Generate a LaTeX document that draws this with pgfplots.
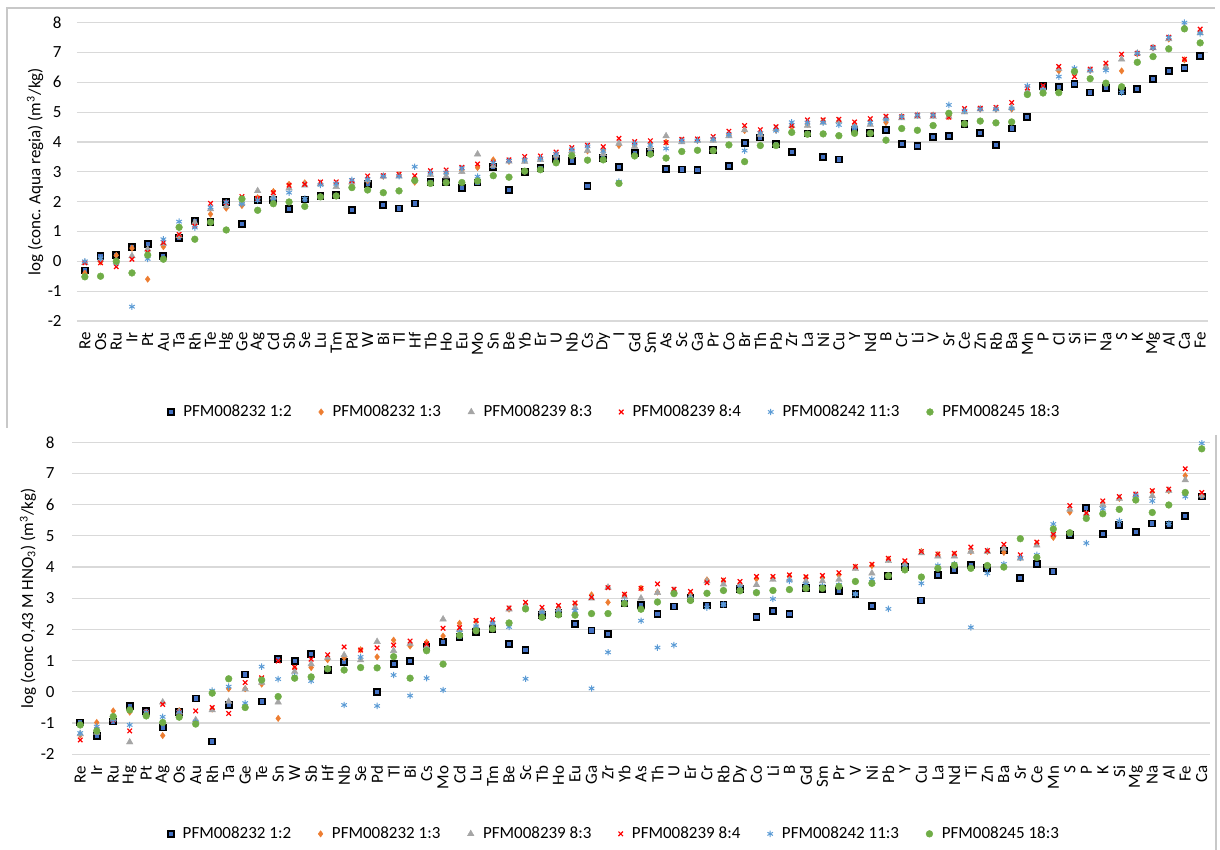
\documentclass[border=0pt]{standalone}
\usepackage{fontspec}
\setmainfont{Carlito}
\usepackage{pgfplots}
\usepackage{pgfplotstable}
\pgfplotsset{compat=1.18}

\definecolor{sqblue}{HTML}{4472C4}
\definecolor{orng}{HTML}{ED7D31}
\definecolor{gry}{HTML}{A5A5A5}
\definecolor{rd}{HTML}{FF0000}
\definecolor{lblue}{HTML}{5B9BD5}
\definecolor{grn}{HTML}{70AD47}
\definecolor{gridc}{HTML}{D9D9D9}
\definecolor{framec}{HTML}{C8C8C8}

\newcommand{\fs}{\fontsize{8.5}{10}\selectfont}

\pgfplotstableread{
i s1 s2 s3 s4 s5 s6
0 -0.31 -0.40 -0.05 -0.05 0.00 -0.52
1 0.17 -0.02 0.05 -0.05 0.10 -0.50
2 0.21 0.20 0.00 -0.18 -0.05 0.00
3 0.49 0.44 0.18 0.07 -1.52 -0.39
4 0.57 -0.60 0.40 0.30 0.08 0.21
5 0.18 0.49 0.60 0.63 0.74 0.07
6 0.79 0.85 0.85 0.90 1.33 1.14
7 1.35 1.25 1.30 1.18 1.13 0.74
8 1.33 1.58 1.75 1.94 1.81 1.31
9 2.00 1.78 1.85 1.97 1.98 1.05
10 1.24 1.87 1.95 2.17 1.92 2.09
11 2.06 2.13 2.36 2.11 2.05 1.71
12 2.06 2.34 2.15 2.30 2.10 1.93
13 1.75 2.58 2.45 2.55 2.30 1.99
14 2.07 2.63 2.55 2.58 2.10 1.84
15 2.18 2.60 2.60 2.66 2.56 2.16
16 2.23 2.60 2.50 2.66 2.60 2.19
17 1.71 2.60 2.65 2.70 2.73 2.47
18 2.59 2.70 2.72 2.86 2.75 2.39
19 1.89 2.85 2.85 2.87 2.85 2.30
20 1.77 2.90 2.85 2.92 2.85 2.36
21 1.94 2.65 2.75 2.87 3.17 2.71
22 2.67 2.95 2.90 3.04 2.97 2.61
23 2.67 2.95 2.85 3.06 2.97 2.64
24 2.47 3.05 3.00 3.15 3.12 2.64
25 2.64 3.14 3.59 3.26 2.84 2.69
26 3.15 3.40 3.20 3.30 3.30 2.87
27 2.38 3.35 3.35 3.40 3.37 2.82
28 3.00 3.40 3.34 3.51 3.40 3.02
29 3.12 3.45 3.40 3.53 3.45 3.07
30 3.44 3.55 3.55 3.66 3.60 3.30
31 3.35 3.75 3.70 3.81 3.75 3.54
32 2.53 3.70 3.71 3.89 3.85 3.39
33 3.45 3.70 3.60 3.84 3.70 3.40
34 3.15 3.88 3.95 4.12 2.67 2.61
35 3.63 3.90 3.85 4.01 3.95 3.53
36 3.65 3.95 3.80 4.04 3.90 3.59
37 3.10 3.99 4.20 3.98 3.78 3.46
38 3.08 4.05 4.00 4.09 4.05 3.68
39 3.05 4.05 4.05 4.10 4.05 3.72
40 3.73 4.10 4.05 4.18 4.10 3.71
41 3.20 4.25 4.20 4.36 4.25 3.90
42 3.96 4.38 4.40 4.55 3.71 3.34
43 4.15 4.30 4.25 4.41 4.30 3.88
44 3.93 4.40 4.45 4.51 4.38 3.88
45 3.66 4.50 4.55 4.55 4.66 4.32
46 4.28 4.60 4.55 4.74 4.65 4.26
47 3.49 4.70 4.65 4.74 4.65 4.27
48 3.41 4.70 4.70 4.76 4.57 4.21
49 4.42 4.60 4.55 4.67 4.50 4.29
50 4.31 4.70 4.58 4.78 4.65 4.29
51 4.39 4.65 4.80 4.86 4.75 4.06
52 3.92 4.85 4.80 4.85 4.85 4.45
53 3.87 4.90 4.85 4.90 4.90 4.39
54 4.16 4.90 4.85 4.90 4.90 4.55
55 4.21 4.85 4.85 4.83 5.24 4.96
56 4.61 5.05 5.00 5.12 5.05 4.61
57 4.29 5.10 5.10 5.13 5.10 4.70
58 3.91 5.10 5.10 5.16 5.10 4.64
59 4.45 5.10 5.15 5.32 5.12 4.67
60 4.84 5.65 5.70 5.81 5.88 5.59
61 5.88 5.70 5.80 5.89 5.75 5.64
62 5.85 6.38 6.45 6.53 6.19 5.65
63 5.93 6.40 6.40 6.19 6.47 6.36
64 5.66 6.40 6.40 6.44 6.40 6.12
65 5.82 6.50 6.50 6.64 6.40 5.97
66 5.72 6.38 6.77 6.94 5.65 5.85
67 5.77 6.95 6.97 6.97 6.97 6.67
68 6.10 7.15 7.15 7.17 7.15 6.86
69 6.39 7.45 7.45 7.51 7.50 7.12
70 6.47 6.75 7.85 6.77 8.00 7.79
71 6.88 7.70 7.65 7.78 7.64 7.32
}\topdata

\pgfplotstableread{
i s1 s2 s3 s4 s5 s6
0 -0.98 -1.38 -1.35 -1.54 -1.32 -1.06
1 -1.41 -0.98 -1.30 -1.20 -1.11 -1.25
2 -0.95 -0.61 -0.85 -0.90 -0.90 -0.79
3 -0.45 -0.65 -1.61 -1.25 -1.06 -0.58
4 -0.61 -0.65 -0.70 -0.65 -0.65 -0.77
5 -1.14 -1.40 -0.33 -0.40 -0.80 -0.98
6 -0.65 -0.60 -0.65 -0.65 -0.65 -0.81
7 -0.21 -0.95 -0.90 -0.61 -0.95 -1.03
8 -1.59 -0.55 -0.58 -0.50 0.04 -0.04
9 -0.42 0.10 -0.31 -0.69 0.17 0.42
10 0.56 0.10 0.09 0.30 -0.36 -0.50
11 -0.31 0.25 0.30 0.45 0.81 0.38
12 1.06 -0.85 -0.33 0.99 0.41 -0.15
13 0.99 0.75 0.65 0.79 0.50 0.44
14 1.21 0.78 0.89 1.05 0.35 0.48
15 0.70 1.03 1.10 1.19 0.75 0.74
16 0.95 1.10 1.18 1.44 -0.42 0.70
17 nan 1.35 1.02 1.34 1.12 0.78
18 0.00 1.12 1.61 1.41 -0.45 0.77
19 0.89 1.66 1.32 1.50 0.54 1.13
20 0.99 1.47 1.55 1.63 -0.12 0.44
21 1.44 1.59 1.45 1.54 0.44 1.32
22 1.61 1.79 2.33 2.04 0.06 0.89
23 1.75 2.20 2.00 2.06 1.90 1.81
24 1.93 2.25 2.10 2.29 2.10 1.96
25 2.02 2.25 2.20 2.31 2.20 2.02
26 1.54 2.65 2.65 2.69 2.08 2.21
27 1.35 2.80 2.75 2.87 0.42 2.66
28 2.47 2.60 2.60 2.71 2.55 2.39
29 2.52 2.70 2.65 2.77 2.55 2.47
30 2.18 2.80 2.70 2.85 2.60 2.46
31 1.97 3.11 3.00 3.03 0.11 2.51
32 1.86 2.87 3.35 3.34 1.27 2.51
33 2.83 3.10 3.05 3.13 2.90 2.83
34 2.79 3.32 3.00 3.32 2.28 2.65
35 2.49 3.20 3.18 3.46 1.42 2.88
36 2.74 3.25 3.25 3.29 1.50 3.15
37 3.02 3.15 3.05 3.22 3.00 2.93
38 2.77 3.59 3.55 3.50 2.70 3.16
39 2.80 3.55 3.45 3.59 2.80 3.25
40 3.30 3.45 3.45 3.54 3.35 3.24
41 2.41 3.62 3.43 3.70 3.20 3.18
42 2.60 3.65 3.60 3.70 2.98 3.25
43 2.49 3.70 3.60 3.75 3.56 3.28
44 3.34 3.65 3.55 3.69 3.45 3.32
45 3.30 3.65 3.55 3.73 3.40 3.32
46 3.24 3.75 3.60 3.82 3.43 3.38
47 3.13 4.00 3.95 4.02 3.13 3.54
48 2.76 4.05 3.80 4.09 3.61 3.48
49 3.72 4.25 4.20 4.28 2.66 3.72
50 3.99 4.15 4.10 4.20 4.00 3.91
51 2.93 4.50 4.45 4.50 3.48 3.68
52 3.75 4.40 4.35 4.42 4.05 3.96
53 3.91 4.40 4.35 4.44 4.10 4.06
54 4.07 4.50 4.50 4.64 2.07 3.96
55 3.96 4.50 4.50 4.53 3.80 4.05
56 4.53 4.47 4.60 4.73 4.10 4.00
57 3.64 4.30 4.28 4.39 4.30 4.91
58 4.09 4.75 4.70 4.80 4.39 4.31
59 3.86 4.95 5.05 5.05 5.38 5.22
60 5.03 5.76 5.85 5.97 5.10 5.10
61 5.89 5.65 5.70 5.73 4.77 5.56
62 5.07 6.05 6.00 6.12 5.87 5.71
63 5.35 6.20 6.20 6.26 5.48 5.85
64 5.13 6.30 6.30 6.34 6.30 6.15
65 5.40 6.40 6.28 6.45 6.12 5.75
66 5.35 6.45 6.45 6.50 5.40 5.99
67 5.63 6.93 6.79 7.15 6.26 6.39
68 6.26 6.30 6.30 6.39 7.97 7.79
}\botdata

\pgfplotsset{
  panel/.style={
    scale only axis,
    ymin=-2, ymax=8, ytick={-2,...,8},
    ymajorgrids, grid style={gridc, line width=0.6pt},
    axis line style={draw=none},
    major tick length=0pt,
    xticklabel style={rotate=90, anchor=east, font=\fs, inner sep=0pt},
    yticklabel style={font=\fs, inner sep=0pt},
    /pgf/number format/assume math mode=true,
    legend columns=6,
    legend cell align=left,
    legend style={draw=none, fill=none, font=\fs, anchor=center,
      nodes={inner sep=1.5pt},
      /tikz/every odd column/.append style={column sep=3pt},
      /tikz/every even column/.append style={column sep=12pt}},
    legend image code/.code={\draw[##1] plot coordinates {(0.1cm,0cm)};},
    every axis y label/.style={rotate=90, anchor=center, font=\fs},
  },
  ser1/.style={only marks, mark=square*, mark size=1.5pt, mark options={draw=black, fill=sqblue, line width=0.9pt}},
  ser2/.style={only marks, mark=diamond*, mark size=1.6pt, mark options={draw=orng, fill=orng, line width=0.2pt}},
  ser3/.style={only marks, mark=triangle*, mark size=1.9pt, mark options={draw=gry, fill=gry, line width=0.2pt}},
  ser4/.style={only marks, mark=x, mark size=1.6pt, mark options={draw=rd, line width=0.6pt}},
  ser5/.style={only marks, mark=asterisk, mark size=1.6pt, mark options={draw=lblue, line width=0.5pt}},
  ser6/.style={only marks, mark=*, mark size=1.7pt, mark options={draw=grn, fill=grn, line width=0.2pt}},
}

\begin{document}
\begin{tikzpicture}[x=1pt, y=1pt]
\path[use as bounding box] (0,0) rectangle (610,425);
% frames
\draw[framec, line width=0.6pt] (3.5,211) -- (3.5,421) -- (607.5,421);
\draw[framec, line width=0.6pt] (608,207.5) -- (608,0);

\begin{axis}[panel,
  at={(38.5pt,264.5pt)}, anchor=south west,
  width=565.5pt, height=149.2pt,
  xmin=-0.5, xmax=71.5,
  xtick={0,...,71},
  xticklabels={Re,Os,Ru,Ir,Pt,Au,Ta,Rh,Te,Hg,Ge,Ag,Cd,Sb,Se,Lu,Tm,Pd,W,Bi,Tl,Hf,Tb,Ho,Eu,Mo,Sn,Be,Yb,Er,U,Nb,Cs,Dy,I,Gd,Sm,As,Sc,Ga,Pr,Co,Br,Th,Pb,Zr,La,Ni,Cu,Y,Nd,B,Cr,Li,V,Sr,Ce,Zn,Rb,Ba,Mn,P,Cl,Si,Ti,Na,S,K,Mg,Al,Ca,Fe},
  xticklabel shift=5.5pt,
  yticklabel shift=7.5pt,
  ylabel={log (conc. Aqua regia) (m\textsuperscript{3}/kg)},
  every axis y label/.append style={at={(axis description cs:-0.0371,0.5)}},
  legend style={at={(axis description cs:0.476,-0.305)}},
]
\addplot[ser1] table[x=i, y=s1] {\topdata};
\addplot[ser2] table[x=i, y=s2] {\topdata};
\addplot[ser3] table[x=i, y=s3] {\topdata};
\addplot[ser4] table[x=i, y=s4] {\topdata};
\addplot[ser5] table[x=i, y=s5] {\topdata};
\addplot[ser6] table[x=i, y=s6] {\topdata};
\legend{PFM008232 1:2, PFM008232 1:3, PFM008239 8:3, PFM008239 8:4, PFM008242 11:3, PFM008245 18:3}
\end{axis}

\begin{axis}[panel,
  at={(36pt,47.85pt)}, anchor=south west,
  width=569pt, height=156pt,
  xmin=-0.5, xmax=68.5,
  xtick={0,...,68},
  xticklabels={Re,Ir,Ru,Hg,Pt,Ag,Os,Au,Rh,Ta,Ge,Te,Sn,W,Sb,Hf,Nb,Se,Pd,Tl,Bi,Cs,Mo,Cd,Lu,Tm,Be,Sc,Tb,Ho,Eu,Ga,Zr,Yb,As,Th,U,Er,Cr,Rb,Dy,Co,Li,B,Gd,Sm,Pr,V,Ni,Pb,Y,Cu,La,Nd,Ti,Zn,Ba,Sr,Ce,Mn,S,P,K,Si,Mg,Na,Al,Fe,Ca},
  xticklabel shift=5.5pt,
  yticklabel shift=8.5pt,
  ylabel={log (conc 0,43 M HNO\textsubscript{3}) (m\textsuperscript{3}/kg)},
  every axis y label/.append style={at={(axis description cs:-0.0387,0.5)}},
  legend style={at={(axis description cs:0.477,-0.255)}},
]
\addplot[ser1] table[x=i, y=s1] {\botdata};
\addplot[ser2] table[x=i, y=s2] {\botdata};
\addplot[ser3] table[x=i, y=s3] {\botdata};
\addplot[ser4] table[x=i, y=s4] {\botdata};
\addplot[ser5] table[x=i, y=s5] {\botdata};
\addplot[ser6] table[x=i, y=s6] {\botdata};
\legend{PFM008232 1:2, PFM008232 1:3, PFM008239 8:3, PFM008239 8:4, PFM008242 11:3, PFM008245 18:3}
\end{axis}
\end{tikzpicture}
\end{document}
